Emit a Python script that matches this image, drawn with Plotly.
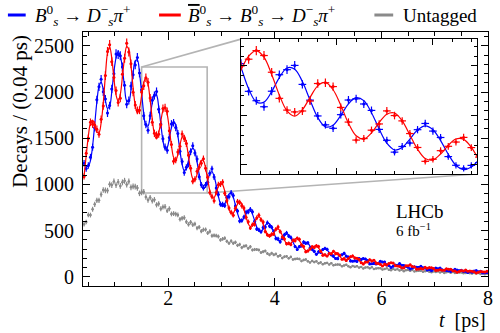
import numpy as np
import plotly.graph_objects as go

# ---------------------------------------------------------------------------
# Decay-time distribution of B_s -> D_s pi candidates, 0.04 ps bins, 0.4-8 ps
# ---------------------------------------------------------------------------
BIN_WIDTH = 0.04
T_MIN, T_MAX = 0.4, 8.0
t_centres = np.round(T_MIN + BIN_WIDTH / 2 + BIN_WIDTH * np.arange(190), 2)

# B_s^0 tagged candidates per bin
blue_counts = [
    1228, 1172, 1204, 1295, 1403, 1614, 1917, 2056, 2138,
    2003, 1925, 1772, 1853, 2034, 2199, 2413, 2406, 2392,
    2271, 2073, 1867, 1908, 2065, 2186, 2294, 2373, 2206,
    2023, 1743, 1648, 1587, 1744, 1911, 1962, 2005, 1813,
    1654, 1494, 1404, 1369, 1507, 1655, 1667, 1615, 1550,
    1358, 1248, 1128, 1185, 1220, 1355, 1418, 1341, 1276,
    1083, 995, 964, 994, 1023, 1121, 1169, 1080, 961,
    892, 786, 784, 772, 857, 866, 909, 881, 765,
    711, 604, 609, 647, 699, 702, 727, 703, 601,
    517, 508, 487, 534, 540, 586, 550, 537, 492,
    414, 412, 378, 417, 455, 475, 440, 426, 395,
    327, 295, 327, 335, 376, 362, 367, 312, 297,
    276, 243, 272, 264, 295, 307, 297, 251, 237,
    225, 197, 196, 234, 238, 255, 223, 213, 170,
    169, 174, 166, 198, 188, 197, 192, 175, 139,
    140, 147, 139, 143, 169, 160, 160, 128, 123,
    99, 113, 127, 124, 143, 124, 122, 113, 102,
    83, 94, 108, 103, 101, 113, 98, 96, 74,
    78, 66, 83, 94, 87, 96, 75, 71, 68,
    66, 58, 71, 81, 73, 64, 70, 57, 59,
    46, 56, 50, 62, 67, 55, 59, 42, 43,
    46,
]

# anti-B_s^0 tagged candidates per bin
red_counts = [
    1086, 1338, 1501, 1673, 1652, 1644, 1597, 1543, 1705,
    1850, 2178, 2439, 2512, 2329, 2157, 2016, 1887, 1934,
    2193, 2366, 2529, 2433, 2305, 1999, 1860, 1802, 1803,
    2000, 2068, 2155, 2105, 1936, 1672, 1553, 1535, 1544,
    1645, 1822, 1830, 1791, 1580, 1432, 1250, 1265, 1350,
    1413, 1545, 1498, 1444, 1316, 1175, 1035, 1056, 1143,
    1187, 1230, 1277, 1174, 1077, 912, 869, 823, 912,
    997, 1003, 1025, 905, 824, 744, 698, 667, 741,
    814, 805, 768, 745, 643, 596, 529, 564, 567,
    637, 667, 617, 593, 490, 455, 443, 460, 463,
    515, 540, 489, 430, 410, 357, 364, 350, 395,
    390, 416, 405, 345, 328, 272, 280, 301, 326,
    318, 335, 328, 275, 233, 239, 225, 253, 248,
    275, 249, 250, 232, 190, 197, 175, 197, 217,
    225, 203, 201, 189, 153, 137, 159, 161, 185,
    171, 179, 146, 143, 136, 116, 137, 127, 144,
    151, 148, 120, 116, 114, 97, 94, 120, 118,
    129, 110, 107, 81, 85, 90, 83, 103, 93,
    99, 98, 89, 69, 71, 77, 70, 71, 87,
    81, 82, 64, 63, 48, 58, 67, 63, 74,
    61, 62, 59, 53, 40, 49, 58, 53, 51,
    59,
]

# untagged candidates per bin
untagged_counts = [
    568, 592, 669, 668, 731, 784, 827, 828, 892,
    939, 935, 933, 1001, 993, 1032, 993, 1027, 984,
    1022, 1039, 998, 1032, 969, 978, 976, 962, 903,
    914, 920, 863, 830, 857, 822, 834, 779, 790,
    737, 756, 759, 716, 737, 680, 684, 679, 669,
    622, 633, 640, 595, 567, 591, 563, 572, 527,
    537, 494, 510, 511, 474, 491, 444, 448, 445,
    436, 399, 410, 418, 384, 363, 386, 364, 373,
    340, 349, 316, 331, 335, 308, 325, 290, 295,
    295, 290, 263, 272, 279, 252, 237, 255, 238,
    246, 221, 230, 203, 217, 221, 201, 215, 188,
    193, 195, 192, 170, 181, 187, 167, 155, 172,
    159, 167, 146, 155, 135, 146, 150, 134, 147,
    125, 131, 133, 131, 114, 123, 129, 113, 103,
    117, 108, 115, 99, 106, 90, 100, 104, 92,
    103, 85, 90, 93, 92, 78, 85, 91, 77,
    71, 83, 75, 82, 68, 75, 61, 70, 74,
    64, 73, 58, 63, 65, 65, 54, 60, 65,
    54, 48, 58, 52, 58, 47, 53, 42, 49,
    53, 44, 52, 40, 44, 46, 46, 37, 42,
    46, 37, 34, 41, 36, 41, 31, 37, 27,
    34,
]

# fit projections evaluated at the bin centres
blue_fit = [
    1211, 1200, 1197, 1258, 1415, 1650, 1892, 2060, 2104,
    2029, 1911, 1823, 1848, 2001, 2218, 2371, 2439, 2392,
    2252, 2049, 1905, 1899, 2019, 2200, 2335, 2346, 2211,
    1988, 1769, 1635, 1634, 1740, 1882, 1979, 1967, 1842,
    1654, 1478, 1384, 1401, 1499, 1616, 1679, 1649, 1527,
    1362, 1218, 1150, 1174, 1260, 1351, 1393, 1355, 1245,
    1107, 995, 951, 977, 1049, 1115, 1137, 1089, 989,
    874, 789, 760, 789, 848, 898, 906, 861, 776,
    687, 623, 609, 637, 686, 722, 722, 678, 609,
    539, 494, 489, 516, 554, 579, 574, 535, 477,
    423, 393, 393, 417, 447, 465, 456, 422, 375,
    333, 312, 316, 337, 362, 373, 362, 332, 295,
    264, 250, 257, 276, 295, 301, 289, 264, 234,
    210, 202, 210, 225, 240, 243, 231, 209, 185,
    168, 164, 172, 186, 197, 197, 187, 168, 149,
    137, 135, 143, 154, 162, 161, 150, 135, 120,
    111, 112, 119, 128, 133, 132, 122, 109, 97,
    91, 92, 98, 106, 110, 107, 99, 88, 79,
    75, 76, 82, 88, 91, 88, 81, 71, 64,
    62, 64, 69, 73, 75, 71, 65, 58, 53,
    51, 54, 58, 61, 62, 58, 53, 47, 43,
    43,
]

red_fit = [
    1089, 1310, 1523, 1662, 1695, 1640, 1568, 1560, 1666,
    1881, 2178, 2421, 2489, 2367, 2148, 1969, 1901, 1976,
    2165, 2371, 2491, 2461, 2291, 2050, 1855, 1770, 1821,
    1960, 2099, 2155, 2088, 1914, 1706, 1545, 1493, 1556,
    1682, 1798, 1834, 1759, 1603, 1420, 1293, 1261, 1323,
    1428, 1512, 1524, 1444, 1302, 1157, 1063, 1049, 1109,
    1197, 1261, 1257, 1177, 1051, 931, 859, 857, 909,
    976, 1015, 998, 925, 824, 732, 684, 689, 736,
    787, 813, 791, 729, 646, 576, 544, 556, 595,
    635, 650, 627, 572, 506, 455, 434, 449, 481,
    511, 519, 495, 449, 397, 359, 348, 362, 389,
    411, 414, 392, 353, 312, 285, 280, 294, 317,
    332, 332, 311, 280, 247, 229, 227, 240, 258,
    270, 266, 248, 221, 196, 183, 185, 197, 211,
    218, 214, 198, 176, 157, 149, 151, 162, 175,
    179, 175, 159, 142, 128, 121, 126, 135, 144,
    147, 142, 129, 114, 103, 100, 104, 113, 119,
    121, 116, 104, 92, 84, 83, 87, 94, 99,
    99, 94, 84, 76, 69, 68, 73, 79, 82,
    82, 76, 69, 61, 57, 57, 61, 66, 67,
    67, 62, 56, 49, 46, 48, 51, 55, 57,
    55,
]

for series in (blue_counts, red_counts, untagged_counts, blue_fit, red_fit):
    assert len(series) == len(t_centres)

# ---------------------------------------------------------------------------
FONT = "'Liberation Serif', 'Times New Roman', 'DejaVu Serif', serif"
BLUE = "#0000ff"
RED = "#ff0000"
GREY = "#8a8a8a"
FRAME = "#b4b4b4"

X_RANGE = [T_MIN, T_MAX]
Y_RANGE = [-100, 2650]
ZOOM_T = [1.5, 2.73]
ZOOM_N = [907, 2271]
INSET_X = [0.390, 0.973]
INSET_Y = [0.441, 0.972]


def to_paper(v, rng):
    return (v - rng[0]) / (rng[1] - rng[0])


def data_points(counts, color, xa, ya, size=3):
    counts = np.asarray(counts, dtype=float)
    return go.Scatter(
        x=t_centres, y=counts, mode="markers", xaxis=xa, yaxis=ya,
        marker=dict(color=color, size=size, line=dict(width=0)),
        error_y=dict(type="data", array=np.sqrt(counts), color=color,
                     thickness=1.2, width=0),
        error_x=dict(type="constant", value=BIN_WIDTH / 2, color=color,
                     thickness=1.2, width=0),
        showlegend=False, hoverinfo="skip", cliponaxis=True,
    )


def fit_line(values, color, xa, ya, width=1.2):
    return go.Scatter(
        x=t_centres, y=values, mode="lines", xaxis=xa, yaxis=ya,
        line=dict(color=color, width=width, shape="spline", smoothing=1.0),
        showlegend=False, hoverinfo="skip",
    )


fig = go.Figure()

# main panel
fig.add_trace(data_points(untagged_counts, GREY, "x", "y", size=2.5))
fig.add_trace(data_points(blue_counts, BLUE, "x", "y"))
fig.add_trace(fit_line(blue_fit, BLUE, "x", "y"))
fig.add_trace(data_points(red_counts, RED, "x", "y"))
fig.add_trace(fit_line(red_fit, RED, "x", "y"))

# zoomed inset
fig.add_trace(data_points(blue_counts, BLUE, "x2", "y2"))
fig.add_trace(fit_line(blue_fit, BLUE, "x2", "y2"))
fig.add_trace(data_points(red_counts, RED, "x2", "y2"))
fig.add_trace(fit_line(red_fit, RED, "x2", "y2"))

axis_common = dict(
    showline=True, linecolor="black", linewidth=1.2, mirror="ticks",
    ticks="inside", tickcolor="black", tickwidth=1.2,
    showgrid=False, zeroline=False, tickmode="linear",
)

fig.update_layout(
    width=500, height=333,
    margin=dict(l=83, r=7, t=32, b=47),
    paper_bgcolor="white", plot_bgcolor="rgba(0,0,0,0)",
    font=dict(family=FONT, size=20, color="black"),
    showlegend=False,
    xaxis=dict(
        **axis_common, range=X_RANGE, tick0=0, dtick=2, ticklen=8,
        tickfont=dict(family=FONT, size=20), ticklabelstandoff=-6,
        minor=dict(tick0=0, dtick=0.5, ticks="inside", ticklen=4,
                   tickwidth=1.2, tickcolor="black", showgrid=False),
    ),
    yaxis=dict(
        **axis_common, range=Y_RANGE, tick0=0, dtick=500, ticklen=7,
        tickfont=dict(family=FONT, size=20), ticklabelstandoff=4,
        minor=dict(tick0=0, dtick=100, ticks="inside", ticklen=4,
                   tickwidth=1.2, tickcolor="black", showgrid=False),
    ),
    xaxis2=dict(
        **axis_common, domain=INSET_X, anchor="y2", range=ZOOM_T,
        tick0=0, dtick=0.5, ticklen=6, showticklabels=False,
        minor=dict(tick0=0, dtick=0.1, ticks="inside", ticklen=3,
                   tickwidth=1.2, tickcolor="black", showgrid=False),
    ),
    yaxis2=dict(
        **axis_common, domain=INSET_Y, anchor="x2", range=ZOOM_N,
        tick0=0, dtick=500, ticklen=6, showticklabels=False,
        minor=dict(tick0=0, dtick=100, ticks="inside", ticklen=3,
                   tickwidth=1.2, tickcolor="black", showgrid=False),
    ),
)

shapes = [
    # white backing for the inset
    dict(type="rect", xref="x2", yref="y2", x0=ZOOM_T[0], x1=ZOOM_T[1],
         y0=ZOOM_N[0], y1=ZOOM_N[1], fillcolor="white",
         line=dict(width=0), layer="below"),
    # zoom window on the main panel
    dict(type="rect", xref="x", yref="y", x0=ZOOM_T[0], x1=ZOOM_T[1],
         y0=ZOOM_N[0], y1=ZOOM_N[1], line=dict(color=FRAME, width=1.6),
         layer="below"),
    # connectors from the window to the inset
    dict(type="line", xref="paper", yref="paper",
         x0=to_paper(ZOOM_T[0], X_RANGE), y0=to_paper(ZOOM_N[1], Y_RANGE),
         x1=INSET_X[0], y1=INSET_Y[1], line=dict(color=FRAME, width=1.6),
         layer="below"),
    dict(type="line", xref="paper", yref="paper",
         x0=to_paper(ZOOM_T[1], X_RANGE), y0=to_paper(ZOOM_N[0], Y_RANGE),
         x1=INSET_X[1], y1=INSET_Y[0], line=dict(color=FRAME, width=1.6),
         layer="below"),
]

# legend keys along the top
LEG_Y = 1.0669
for x0, x1, col in [(-0.1854, -0.1415, BLUE), (0.1878, 0.2415, RED),
                    (0.7195, 0.7659, GREY)]:
    shapes.append(dict(type="line", xref="paper", yref="paper",
                       x0=x0, x1=x1, y0=LEG_Y, y1=LEG_Y,
                       line=dict(color=col, width=3)))
fig.update_layout(shapes=shapes)

bs = "<i>B</i><sup>0</sup><sub><i>s</i></sub>"
bsbar = ('<span style="text-decoration:overline"><i>B</i></span>'
         "<sup>0</sup><sub><i>s</i></sub>")
dspi = "<i>D</i><sup>−</sup><sub><i>s</i></sub><i>π</i><sup>+</sup>"

LEG_TEXT_Y = 1.0630
annotations = [
    dict(text=f"{bs} → {dspi}", x=-0.1244, y=LEG_TEXT_Y),
    dict(text=f"{bsbar} → {bs} → {dspi}", x=0.2537, y=LEG_TEXT_Y),
    dict(text="Untagged", x=0.7854, y=LEG_TEXT_Y),
]
for a in annotations:
    a.update(xref="paper", yref="paper", xanchor="left", yanchor="middle",
             showarrow=False, font=dict(family=FONT, size=19, color="black"))

annotations += [
    dict(text="LHCb", x=0.768, y=0.293, xref="paper", yref="paper",
         xanchor="left", yanchor="middle", showarrow=False,
         font=dict(family=FONT, size=19, color="black")),
    dict(text="6 fb<sup>−1</sup>", x=0.768, y=0.222, xref="paper",
         yref="paper", xanchor="left", yanchor="middle", showarrow=False,
         font=dict(family=FONT, size=15, color="black")),
    dict(text="<i>t</i>  [ps]", x=1.0, y=-0.134, xref="paper", yref="paper",
         xanchor="right", yanchor="middle", showarrow=False,
         font=dict(family=FONT, size=20, color="black")),
    dict(text="Decays / (0.04 ps)", x=-0.156, y=0.689, xref="paper",
         yref="paper", xanchor="center", yanchor="middle", textangle=-90,
         showarrow=False, font=dict(family=FONT, size=21, color="black")),
]
fig.update_layout(annotations=annotations)

fig.write_html("out.html")
